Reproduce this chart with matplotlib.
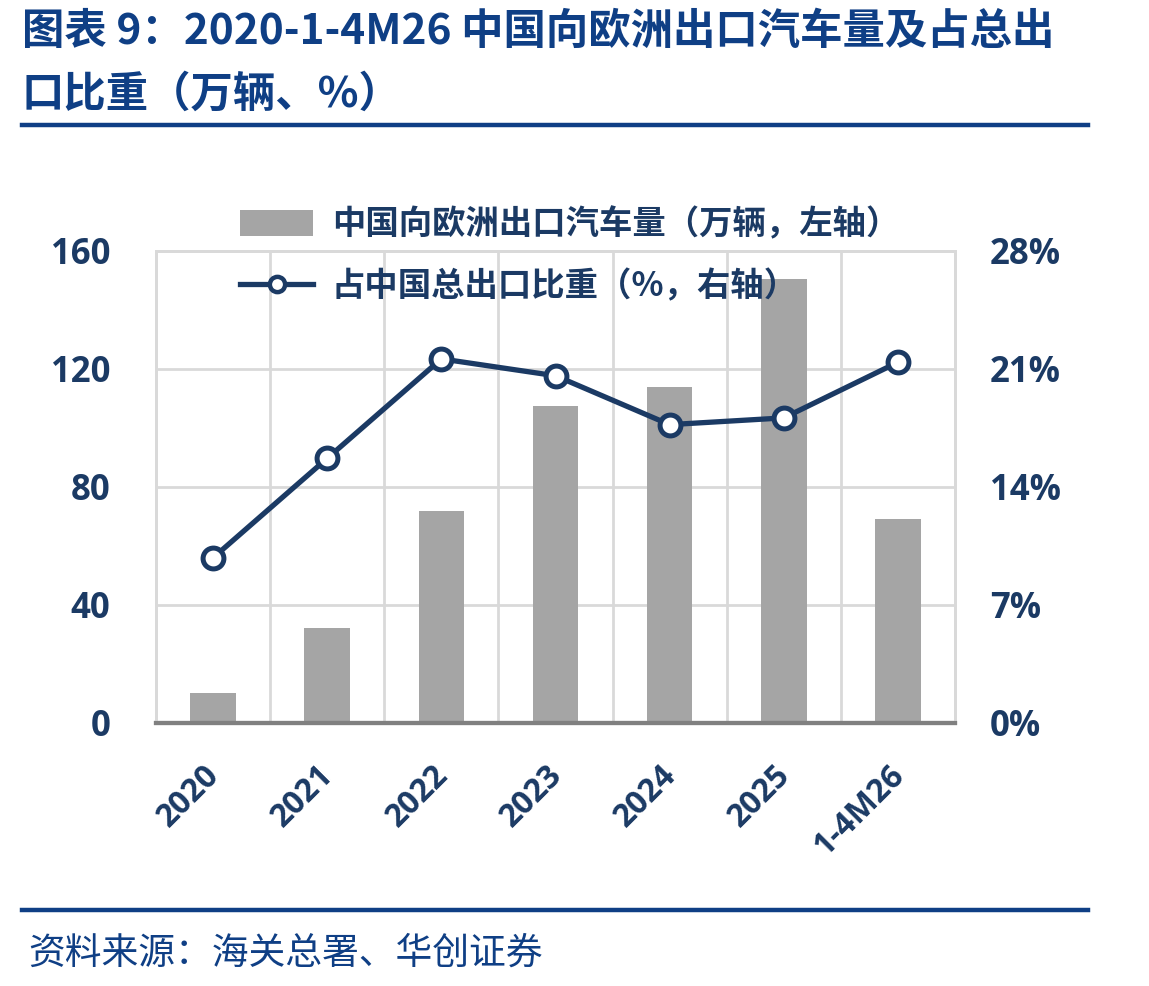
import matplotlib
matplotlib.use("Agg")
import matplotlib.pyplot as plt
from matplotlib.lines import Line2D
from matplotlib.patches import Patch
from matplotlib.transforms import ScaledTranslation

plt.rcParams['font.family'] = ['Open Sans', 'Noto Sans CJK SC', 'DejaVu Sans']

categories = ["2020", "2021", "2022", "2023", "2024", "2025", "1-4M26"]
export_volume = [10.2, 32.2, 72.0, 107.5, 114.0, 150.5, 69.2]
export_share = [9.8, 15.7, 21.6, 20.6, 17.7, 18.1, 21.4]
left_ticks = [0, 40, 80, 120, 160]
right_ticks = [0, 7, 14, 21, 28]

title_line1 = "图表 9：2020-1-4M26 中国向欧洲出口汽车量及占总出"
title_line2 = "口比重（万辆、%）"
bar_label = "中国向欧洲出口汽车量（万辆，左轴）"
line_label = "占中国总出口比重（%，右轴）"
source = "资料来源：海关总署、华创证券"

NAVY = "#1B3A64"
TITLE = "#0F3F85"
GRID = "#D9D9D9"
BAR = "#A5A5A5"

fig = plt.figure(figsize=(11.49, 9.86), dpi=100)
W, H = 1149, 986
ax = fig.add_axes([156 / W, 1 - 723 / H, (955 - 156) / W, (723 - 251) / H])
ax2 = ax.twinx()

x = list(range(len(categories)))
ax.bar(x, export_volume, width=0.4, color=BAR, zorder=2)
ax.set_ylim(0, 160)
ax.set_xlim(-0.5, len(categories) - 0.5)
ax.set_yticks(left_ticks)
ax.set_yticklabels([str(t) for t in left_ticks])
ax.set_xticks(x)
ax.set_xticklabels(categories, rotation=45, ha='right', rotation_mode='anchor')

ax.grid(axis='y', color=GRID, lw=2, zorder=0)
for i in range(len(categories) - 1):
    ax.axvline(i + 0.5, color=GRID, lw=2, zorder=0)
ax.set_axisbelow(True)

ax2.plot(x, export_share, color=NAVY, lw=3.8, marker='o', markersize=15,
         markerfacecolor='white', markeredgecolor=NAVY, markeredgewidth=3.6, zorder=5)
ax2.set_ylim(0, 28)
ax2.set_yticks(right_ticks)
ax2.set_yticklabels([f"{t}%" for t in right_ticks])

for a in (ax, ax2):
    for s in ('top', 'left', 'right'):
        a.spines[s].set_color(GRID)
        a.spines[s].set_linewidth(2)
    a.spines['bottom'].set_color("#808080")
    a.spines['bottom'].set_linewidth(3)
    a.tick_params(length=0)

ax.tick_params(axis='y', labelsize=25, labelcolor=NAVY, pad=33)
ax2.tick_params(axis='y', labelsize=25, labelcolor=NAVY, pad=25)
ax.tick_params(axis='x', labelsize=23, labelcolor=NAVY, pad=26)
for lab in ax.get_yticklabels() + ax2.get_yticklabels() + ax.get_xticklabels():
    lab.set_fontweight('bold')
shift = ScaledTranslation(-10 / 100, 0, fig.dpi_scale_trans)
for lab in ax.get_xticklabels():
    lab.set_transform(lab.get_transform() + shift)

handles = [Patch(facecolor=BAR, edgecolor='none'),
           Line2D([0], [0], color=NAVY, lw=3.8, marker='o', markersize=11,
                  markerfacecolor='white', markeredgecolor=NAVY, markeredgewidth=3.2)]
leg = fig.legend(handles, [bar_label, line_label], loc='upper left',
                 bbox_to_anchor=(210 / W, 1 - 178 / H), frameon=False,
                 prop={'family': ['Noto Sans CJK SC', 'DejaVu Sans'], 'weight': 'bold', 'size': 24},
                 labelspacing=0.85, handlelength=2.2, handleheight=0.85, handletextpad=0.55)
for t in leg.get_texts():
    t.set_color(NAVY)

cjk = ['Noto Sans CJK SC', 'DejaVu Sans']
fig.text(22 / W, 1 - 32 / H, title_line1, family=cjk, fontsize=30.5, fontweight='bold',
         color=TITLE, va='center', ha='left')
fig.text(22 / W, 1 - 95 / H, title_line2, family=cjk, fontsize=30.5, fontweight='bold',
         color=TITLE, va='center', ha='left')
fig.add_artist(Line2D([22 / W, 1088 / W], [1 - 125 / H, 1 - 125 / H], color=TITLE, lw=3.2))
fig.add_artist(Line2D([22 / W, 1088 / W], [1 - 910 / H, 1 - 910 / H], color=TITLE, lw=3.2))
fig.text(28 / W, 1 - 953 / H, source, family=cjk, fontsize=26.5, style='italic',
         color=TITLE, va='center', ha='left')

fig.savefig("out.png", dpi=100)
